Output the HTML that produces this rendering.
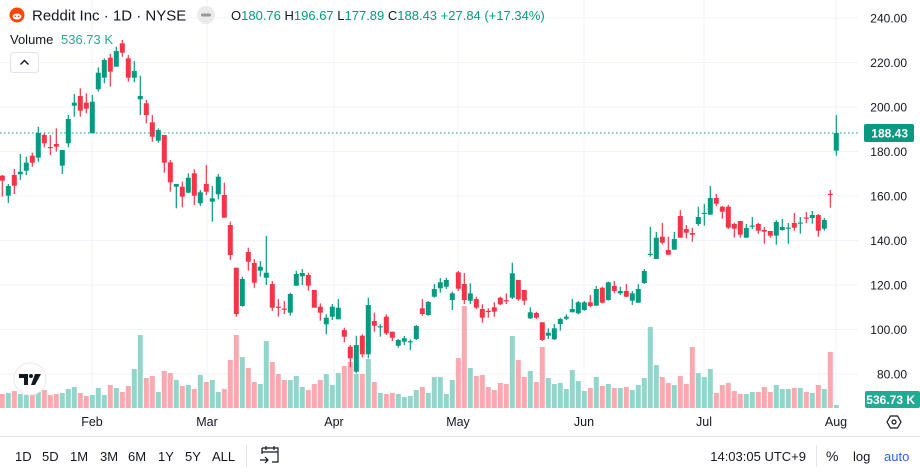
<!DOCTYPE html>
<html><head><meta charset="utf-8"><style>
html,body{margin:0;padding:0;background:#fff;width:920px;height:472px;overflow:hidden;font-family:"Liberation Sans","DejaVu Sans",sans-serif}
svg{position:absolute;left:0;top:0}
</style></head><body>
<svg id="s" width="920" height="472" xmlns="http://www.w3.org/2000/svg" font-family="Liberation Sans, DejaVu Sans, sans-serif"></svg>
<script>
const S=document.getElementById('s');let h='';
const G='#089981',R='#f23645',VG='#92d6cb',VR='#f9a9af';
// grid
[18,62.5,107,151.5,196,240.5,285,329.5,374].forEach(y=>{h+=`<line x1="0" x2="858" y1="${y}" y2="${y}" stroke="#f0f3fa"/>`});
[92,207,334,458,584,704,836].forEach(x=>{h+=`<line x1="${x}" x2="${x}" y1="0" y2="408" stroke="#f0f3fa"/>`});
// volume
const v1=[207,204,198,207,210,207,200,195,210,207,204,192,186,204,213,210,189,210,180,189,201,183,132,30,159,153,201,138,144,165,183,180,192,150,171,165,201,192,105,30,96,129,171,177,48,111,147,165,165,153,186,195,177,165,147,180,144,123,111,147,147,102,171,204,207,204,207,216,213,195,186,204].map(z=>325+z/3);
const v2=[231,231,282,240,174,18,204,228,225,261,270,249,252,108,180,231,213,246,141,234,252,249,267,210,243,273,264,231,258,252,264,264,261,270,255,234,81,195,231,249,255,228,252,141,219,231,207,279,255,249,273,282,282,276,276,261,276,255,267,267,264,264,276,279,255,267,156,315].map(z=>300+z/3);
const vol=v1.concat(v2);
// candles [color,bodyTop,bodyBot,wickTop,wickBot]
const C=[
['r',175.7,180.7,175,196.7],['g',186,195.7,184,203],['r',175,185.7,169,194],['g',171.7,174.3,154,180],['g',162.7,170.7,156.7,175],['r',155.7,162.7,152.7,166.7],['g',133,157.7,126.7,161.7],['r',135,143.3,133.3,147.3],['r',147,147.7,135,155],['r',144,146.7,128.3,151.7],
['g',150,165.7,150,174],['g',119,143.3,115,147.3],['g',102.7,105.7,94,116.7],['r',96,110.7,88.3,116.7],['r',102.7,108.7,93.3,113.3],['g',101.7,133.3,95,133.3],['g',72.7,89.3,67.3,91.7],['g',60,77.7,58.3,83.3],['r',57.7,71.7,54,86.7],['g',51,66.7,46.7,66.7],
['r',43.3,52.7,40,56.7],['r',58.3,77.7,55,81.7],['g',71,77.7,61,82.3],['g',96,99.3,75.7,115],['r',103.3,115,100,123.3],['r',122.3,136.7,115,141.7],['g',130,140.7,128.3,142.7],['r',135,162.7,135,172.7],['r',162.3,182.3,160,191.7],['g',184,186.7,184,208.3],
['r',186.7,196.7,181.7,207.3],['g',177.7,192.7,173.3,193.3],['r',173.3,195.7,169.3,205],['g',192.3,203.3,190,206],['r',184,191.7,165,195],['g',198.3,201.7,186,221.7],['g',176.7,194.3,174,199.3],['r',195,217.7,182.7,217.7],['r',225,255,221.7,260],['r',267.7,314,267.7,316.7],
['g',279,306,276.7,306.7],['r',252,261.7,247.7,270.7],['r',263,282.7,259,287.7],['g',266.7,270.7,261,276.7],['g',272.7,277.7,236,285],['r',284,307.7,281,311],['r',306.7,307.3,299,316.7],['r',308.5,309.5,301,314],['g',294,312.7,292.7,315.7],['g',274,285.7,270.7,285.7],
['g',273,276.3,269,285],['r',275,285.7,272.7,290.7],['r',290,307.7,290,307.7],['r',306.7,312.7,303.3,320.7],['g',317.7,324.3,314.3,334.3],['g',306.7,316.7,304,320],['g',307.7,319.3,299,319.3],['r',330,336.7,327.7,342.3],['r',346.7,358.3,345,367.3],['g',345,371.7,335.7,373.3],
['r',335.7,354.3,334.3,357.3],['g',305,354.3,297.7,358.3],['r',321,325.7,312.7,331.7],['g',326.2,327.2,324.3,336.7],['r',316.7,333.3,314.3,335],['r',331.7,337.7,331.7,341],['g',340,345.7,339,347.7],['g',338.3,341.7,336,345],['g',341.2,342.2,339.3,350],['g',326,339,325,340],
['r',308.3,314,299,315.7],['g',302,315,301,315.7],['g',289,296.7,284,297.7],['g',282.3,288.3,278,292.7],['g',280,286.7,277.7,289],['g',293.3,300,291.7,310],['r',272.3,288.7,271,291],['r',284,300,273,304],['g',293.3,300.7,283.3,304],['r',299,307.7,296.7,309],
['r',309,317.7,304.3,322.7],['r',310.8,311.8,308.3,317.7],['r',307.3,311.7,302.3,316.7],['r',297.7,304.3,296.7,305],['r',300.2,301.2,293.3,304],['g',273.3,297.7,262.7,299],['r',280,299.3,280,300.7],['r',290,300.7,290,305],['g',312.3,318.3,307.3,319],['r',313,317.7,311.7,319],
['r',322.3,340,322.3,341],['g',332.7,335.7,328.3,339],['g',328.3,339.3,324,340],['g',319,324,317.7,330.7],['g',316.7,318.7,314.3,320],['g',309,312.3,299,312.3],['g',302.3,313.3,301,314.3],['g',302.3,310,301,310.7],['r',302.3,306,295,307.3],['g',289,305.7,286,305.7],
['r',287.7,302.7,286.7,303.3],['g',282.3,300,281.7,300.7],['r',286,291,281,293.3],['g',291,293.3,286.7,295],['r',291,296.7,284,297.3],['g',293.3,300.7,291,305],['g',289,302.7,284,302.7],['g',271,283,269,284],['g',253.8,254.8,226.7,256.7],['g',237.7,259,232,259],
['r',236.7,242.7,223,244.3],['r',250,254.7,236.7,254.7],['g',239,249.7,232,249.7],['r',216,237.7,210,237.7],['r',229,232.7,225,238.3],['r',233,234.7,227.7,241.7],['g',217,224,206.7,226],['g',212.8,213.8,204,225.7],['g',198,214.7,186,214.7],['r',198,203.7,194,206],
['r',206.7,211.7,206,218.7],['r',206.7,227.7,205,229],['r',224,228.7,222.7,237.7],['r',221,234.7,221,237.7],['g',228,237.7,224,237.7],['g',225.5,226.5,217,229],['r',224,230.7,222.7,233.7],['r',230,231.7,227,243.7],['r',231,235.7,231,237.7],['g',222,235.7,220,244.7],
['g',227,230,219,230.7],['g',227.5,228.5,223,243.7],['r',223,227.7,213,230.7],['g',222.5,223.5,217,233.7],['r',217.5,218.5,212,223],['g',215,218,211,223.7],['r',215,230.7,214,236.7],['g',220,228.7,218,230.7],['r',193.8,194.8,190,207.7],['g',133,150.7,115,155.7]];
C.forEach((c,i)=>{const x=2.3+6*i;const top=vol[i];h+=`<rect x="${(x-2.5).toFixed(1)}" y="${top.toFixed(1)}" width="5" height="${(408-top).toFixed(1)}" fill="${c[0]=='g'?VG:VR}"/>`;});
C.forEach((c,i)=>{const x=2.3+6*i;const col=c[0]=='g'?G:R;h+=`<line x1="${x.toFixed(1)}" x2="${x.toFixed(1)}" y1="${c[3]}" y2="${c[4]}" stroke="${col}" stroke-width="1.2"/>`;h+=`<rect x="${(x-2.5).toFixed(1)}" y="${c[1]}" width="5" height="${Math.max(1.2,c[2]-c[1]).toFixed(1)}" fill="${col}"/>`;});
// current price line
h+=`<line x1="0" x2="858" y1="133" y2="133" stroke="#089981" stroke-dasharray="1.5,2.5"/>`;
// price axis
const pl=[['240.00',18],['220.00',62.5],['200.00',107],['180.00',151.5],['160.00',196],['140.00',240.5],['120.00',285],['100.00',329.5],['80.00',374]];
pl.forEach(p=>{h+=`<text x="907" y="${p[1]+4.5}" font-size="12" fill="#131722" text-anchor="end">${p[0]}</text>`});
h+=`<rect x="864" y="124" width="50" height="18" rx="2" fill="#089981"/><text x="908" y="137.5" font-size="12" fill="#fff" text-anchor="end" font-weight="bold">188.43</text>`;
h+=`<rect x="865" y="391" width="55" height="17" rx="2" fill="#22ab94"/><text x="915" y="404" font-size="12" fill="#fff" text-anchor="end" font-weight="bold">536.73 K</text>`;
// x labels
[['Feb',92],['Mar',207],['Apr',334],['May',458],['Jun',584],['Jul',704],['Aug',836]].forEach(l=>{h+=`<text x="${l[1]}" y="426" font-size="12.5" fill="#131722" text-anchor="middle">${l[0]}</text>`});
// gear
h+=`<polygon points="887,422 890.5,416 897.5,416 901,422 897.5,428 890.5,428" fill="none" stroke="#131722" stroke-width="1.2"/><circle cx="894" cy="422" r="2" fill="none" stroke="#131722" stroke-width="1.2"/>`;
// bottom separator
h+=`<line x1="0" x2="920" y1="436.5" y2="436.5" stroke="#e0e3eb"/>`;
let bx=[[15,'1D'],[42,'5D'],[70,'1M'],[100,'3M'],[128,'6M'],[158,'1Y'],[185,'5Y'],[212,'ALL']];
bx.forEach(b=>{h+=`<text x="${b[0]}" y="461" font-size="13" fill="#131722">${b[1]}</text>`});
h+=`<line x1="246.5" x2="246.5" y1="445" y2="467" stroke="#e0e3eb"/>`;
h+=`<path d="M262 448h16v14h-6M262 448v6M262 452h16M266 446v4M274 446v4" fill="none" stroke="#131722" stroke-width="1.2"/><path d="M260 460h8M265 457l3 3-3 3" fill="none" stroke="#131722" stroke-width="1.2"/>`;
h+=`<text x="806" y="461" font-size="13" fill="#131722" text-anchor="end">14:03:05 UTC+9</text><line x1="816.5" x2="816.5" y1="445" y2="467" stroke="#e0e3eb"/>`;
h+=`<text x="826" y="461" font-size="14" fill="#131722">%</text><text x="853" y="461" font-size="13" fill="#131722">log</text><text x="884" y="461" font-size="13" fill="#2962ff">auto</text>`;
// header
h+=`<circle cx="17" cy="15" r="7.5" fill="#ff4500"/><ellipse cx="17" cy="16.5" rx="4.5" ry="3" fill="#fff"/><circle cx="15.3" cy="16.3" r="0.8" fill="#ff4500"/><circle cx="18.7" cy="16.3" r="0.8" fill="#ff4500"/>`;
h+=`<text x="32" y="20.5" font-size="15" fill="#131722">Reddit Inc · 1D · NYSE</text>`;
h+=`<circle cx="206" cy="15" r="9" fill="#ebebeb"/><rect x="201" y="13.5" width="10" height="3" rx="1.5" fill="#9598a1"/>`;
h+=`<text x="231" y="20" font-size="13" fill="#131722">O<tspan fill="#089981">180.76</tspan>  H<tspan fill="#089981">196.67</tspan>  L<tspan fill="#089981">177.89</tspan>  C<tspan fill="#089981">188.43</tspan>  <tspan fill="#089981">+27.84 (+17.34%)</tspan></text>`;
h+=`<text x="10" y="44" font-size="13" fill="#131722">Volume</text><text x="61" y="44" font-size="13" fill="#22ab94">536.73 K</text>`;
h+=`<rect x="10.5" y="52.5" width="28" height="20" rx="3" fill="#fff" stroke="#e0e3eb"/><path d="M20.5 64.5l4-4 4 4" fill="none" stroke="#131722" stroke-width="1.4"/>`;
// TV logo
h+=`<circle cx="30" cy="379" r="16" fill="#fff" stroke="#e8e8e8"/><path d="M19 374h9v11h-4v-7h-5z" fill="#131722"/><circle cx="31" cy="376" r="2" fill="#131722"/><path d="M35 374h6l-6 11h-4z" fill="#131722"/>`;
S.innerHTML=h;
</script>
</body></html>
